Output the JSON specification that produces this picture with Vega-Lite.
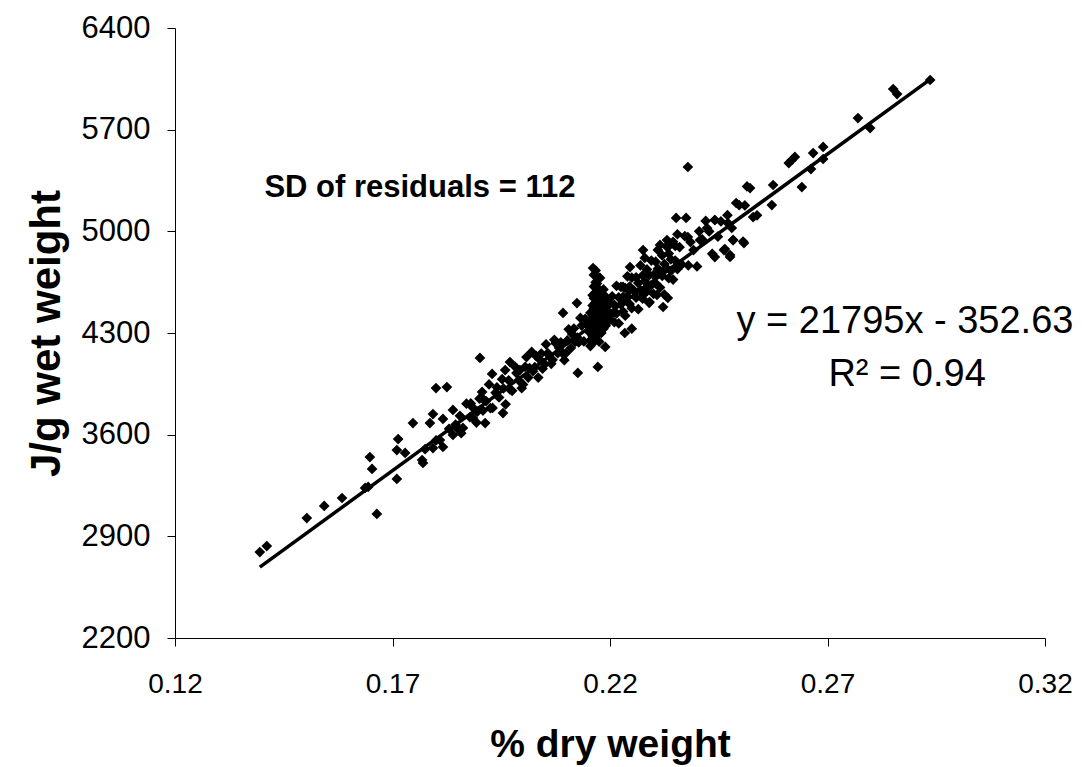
{
  "$schema": "https://vega.github.io/schema/vega-lite/v6.json",
  "width": 870,
  "height": 610,
  "autosize": "none",
  "padding": {"left": 175, "top": 28, "right": 37, "bottom": 129},
  "background": "white",
  "config": {
    "view": {"stroke": null},
    "font": "Liberation Sans",
    "axis": {"grid": false, "domainColor": "#000000", "tickColor": "#000000", "domainWidth": 1, "tickWidth": 1, "tickSize": 8, "labelFont": "Liberation Sans", "labelColor": "#000000", "titleFont": "Liberation Sans", "titleFontWeight": "bold", "titleColor": "#000000", "labelFlush": false, "labelOverlap": false, "labelBound": false}
  },
  "datasets": {
    "pts": [
      {"x":0.1395,"y":2792},{"x":0.1411,"y":2833},{"x":0.1503,"y":3026},{"x":0.1543,"y":3109},{"x":0.1584,"y":3164},
      {"x":0.1637,"y":3233},{"x":0.1644,"y":3240},{"x":0.1648,"y":3446},{"x":0.1653,"y":3364},{"x":0.1664,"y":3054},
      {"x":0.1710,"y":3295},{"x":0.1710,"y":3494},{"x":0.1713,"y":3570},{"x":0.1729,"y":3474},{"x":0.1747,"y":3680},
      {"x":0.1768,"y":3425},{"x":0.1770,"y":3405},{"x":0.1786,"y":3680},{"x":0.1793,"y":3742},{"x":0.1793,"y":3508},
      {"x":0.1800,"y":3921},{"x":0.1809,"y":3563},{"x":0.1816,"y":3708},{"x":0.1816,"y":3515},{"x":0.1825,"y":3928},
      {"x":0.1839,"y":3770},{"x":0.1839,"y":3598},{"x":0.1850,"y":3640},{"x":0.1885,"y":3715},{"x":0.1901,"y":4128},
      {"x":0.1906,"y":3894},{"x":0.1913,"y":3680},{"x":0.1929,"y":4018},{"x":0.1954,"y":3749},{"x":0.1959,"y":4045},
      {"x":0.1970,"y":4100},{"x":0.1993,"y":4045},{"x":0.1775,"y":3500},{"x":0.1800,"y":3560},{"x":0.1830,"y":3640},
      {"x":0.1845,"y":3670},{"x":0.1858,"y":3610},
      {"x":0.1855,"y":3730},{"x":0.1862,"y":3646},{"x":0.1870,"y":3813},{"x":0.1878,"y":3720},{"x":0.1885,"y":3786},
      {"x":0.1893,"y":3683},{"x":0.1900,"y":3848},{"x":0.1908,"y":3766},{"x":0.1915,"y":3831},{"x":0.1922,"y":3946},
      {"x":0.1930,"y":3784},{"x":0.1937,"y":3889},{"x":0.1945,"y":3856},{"x":0.1952,"y":3982},{"x":0.1960,"y":3809},
      {"x":0.1967,"y":3974},{"x":0.1975,"y":3902},{"x":0.1982,"y":4067},{"x":0.1990,"y":3975},{"x":0.1997,"y":3920},
      {"x":0.2005,"y":4067},{"x":0.2012,"y":3993},{"x":0.2020,"y":4170},{"x":0.2027,"y":4065},{"x":0.2035,"y":3993},
      {"x":0.2042,"y":4158},{"x":0.2050,"y":4085},{"x":0.2057,"y":4161},{"x":0.2065,"y":4088},{"x":0.2072,"y":4253},
      {"x":0.2080,"y":4161},{"x":0.2087,"y":4236},{"x":0.2095,"y":4113},{"x":0.2102,"y":4249},{"x":0.2110,"y":4196},
      {"x":0.2117,"y":4331},{"x":0.2125,"y":4269},{"x":0.2132,"y":4404},{"x":0.2140,"y":4242},{"x":0.2147,"y":4357},
      {"x":0.1880,"y":3815},{"x":0.1895,"y":3758},{"x":0.1910,"y":3840},{"x":0.1925,"y":3783},{"x":0.1940,"y":3926},
      {"x":0.1955,"y":3918},{"x":0.1970,"y":3911},{"x":0.1985,"y":4024},{"x":0.2000,"y":3946},{"x":0.2015,"y":4059},
      {"x":0.2030,"y":4142},{"x":0.2045,"y":4054},{"x":0.2060,"y":4147},{"x":0.2075,"y":4230},{"x":0.2090,"y":4163},
      {"x":0.2105,"y":4325},{"x":0.2120,"y":4238},{"x":0.2135,"y":4351},{"x":0.2150,"y":4313},
      {"x":0.2008,"y":4134},{"x":0.2023,"y":4037},{"x":0.2038,"y":4119},{"x":0.2053,"y":4222},{"x":0.2068,"y":4115},
      {"x":0.2083,"y":4197},{"x":0.2098,"y":4160},{"x":0.2113,"y":4293},{"x":0.2128,"y":4235},{"x":0.2143,"y":4398},
      {"x":0.2155,"y":4250},{"x":0.2155,"y":4310},{"x":0.2155,"y":4380},{"x":0.2155,"y":4440},{"x":0.2155,"y":4210},
      {"x":0.2160,"y":4280},{"x":0.2160,"y":4350},{"x":0.2160,"y":4420},{"x":0.2160,"y":4490},{"x":0.2160,"y":4560},{"x":0.2160,"y":4230},
      {"x":0.2163,"y":4300},{"x":0.2163,"y":4400},{"x":0.2163,"y":4470},{"x":0.2163,"y":4540},{"x":0.2163,"y":4620},{"x":0.2163,"y":4700},
      {"x":0.2167,"y":4260},{"x":0.2167,"y":4330},{"x":0.2167,"y":4390},{"x":0.2167,"y":4450},{"x":0.2167,"y":4510},{"x":0.2167,"y":4580},{"x":0.2167,"y":4650},{"x":0.2167,"y":4730},
      {"x":0.2170,"y":4290},{"x":0.2170,"y":4360},{"x":0.2170,"y":4430},{"x":0.2170,"y":4500},{"x":0.2170,"y":4570},{"x":0.2170,"y":4640},
      {"x":0.2175,"y":4240},{"x":0.2175,"y":4320},{"x":0.2175,"y":4400},{"x":0.2175,"y":4460},{"x":0.2175,"y":4530},{"x":0.2175,"y":4600},{"x":0.2175,"y":4680},
      {"x":0.2180,"y":4300},{"x":0.2180,"y":4370},{"x":0.2180,"y":4440},{"x":0.2180,"y":4510},{"x":0.2180,"y":4560},
      {"x":0.2185,"y":4330},{"x":0.2185,"y":4390},{"x":0.2185,"y":4460},{"x":0.2185,"y":4520},{"x":0.2185,"y":4600},
      {"x":0.2190,"y":4350},{"x":0.2190,"y":4420},{"x":0.2190,"y":4480},{"x":0.2190,"y":4550},
      {"x":0.2195,"y":4380},{"x":0.2195,"y":4450},{"x":0.2195,"y":4510},
      {"x":0.2124,"y":4506},{"x":0.2092,"y":4438},{"x":0.2161,"y":4747},{"x":0.2177,"y":4679},{"x":0.2172,"y":4066},
      {"x":0.2126,"y":4025},{"x":0.2189,"y":4204},
      {"x":0.2200,"y":4502},{"x":0.2200,"y":4392},{"x":0.2205,"y":4553},{"x":0.2205,"y":4433},{"x":0.2210,"y":4494},{"x":0.2210,"y":4374},
      {"x":0.2215,"y":4625},{"x":0.2215,"y":4435},{"x":0.2220,"y":4546},{"x":0.2220,"y":4366},{"x":0.2225,"y":4497},{"x":0.2225,"y":4617},
      {"x":0.2230,"y":4448},{"x":0.2230,"y":4548},{"x":0.2235,"y":4609},{"x":0.2235,"y":4419},{"x":0.2240,"y":4550},{"x":0.2240,"y":4690},
      {"x":0.2245,"y":4500},{"x":0.2245,"y":4620},{"x":0.2250,"y":4681},{"x":0.2250,"y":4471},{"x":0.2255,"y":4592},{"x":0.2246,"y":4754},
      {"x":0.2260,"y":4543},{"x":0.2260,"y":4683},{"x":0.2265,"y":4644},{"x":0.2265,"y":4464},{"x":0.2270,"y":4765},{"x":0.2270,"y":4595},
      {"x":0.2275,"y":4536},{"x":0.2275,"y":4696},{"x":0.2280,"y":4657},{"x":0.2280,"y":4817},{"x":0.2285,"y":4588},{"x":0.2285,"y":4738},
      {"x":0.2290,"y":4698},{"x":0.2290,"y":4508},{"x":0.2295,"y":4799},{"x":0.2295,"y":4629},{"x":0.2300,"y":4700},{"x":0.2300,"y":4570},
      {"x":0.2305,"y":4791},{"x":0.2305,"y":4641},{"x":0.2310,"y":4742},{"x":0.2310,"y":4872},{"x":0.2315,"y":4613},{"x":0.2315,"y":4723},
      {"x":0.2320,"y":4834},{"x":0.2320,"y":4694},{"x":0.2325,"y":4775},{"x":0.2325,"y":4565},{"x":0.2330,"y":4896},{"x":0.2330,"y":4746},
      {"x":0.2335,"y":4677},{"x":0.2335,"y":4847},{"x":0.2340,"y":4807},{"x":0.2340,"y":4727},{"x":0.2345,"y":4928},{"x":0.2345,"y":4668},
      {"x":0.2350,"y":4799},{"x":0.2350,"y":4899},{"x":0.2355,"y":4740},{"x":0.2355,"y":4980},
      {"x":0.2230,"y":4617},{"x":0.2246,"y":4596},{"x":0.2285,"y":4617},{"x":0.2276,"y":4562},{"x":0.2308,"y":4562},
      {"x":0.2333,"y":4541},{"x":0.2322,"y":4479},{"x":0.2291,"y":4513},{"x":0.2234,"y":4300},{"x":0.2250,"y":4330},
      {"x":0.2360,"y":4891},{"x":0.2365,"y":4772},{"x":0.2372,"y":4967},{"x":0.2380,"y":4765},{"x":0.2385,"y":4926},
      {"x":0.2392,"y":4871},{"x":0.2400,"y":4758},{"x":0.2405,"y":5000},{"x":0.2412,"y":4944},{"x":0.2420,"y":5072},
      {"x":0.2428,"y":4999},{"x":0.2435,"y":4845},{"x":0.2441,"y":5078},{"x":0.2448,"y":4963},{"x":0.2455,"y":5068},
      {"x":0.2464,"y":4878},{"x":0.2470,"y":5111},{"x":0.2476,"y":4824},{"x":0.2483,"y":4940},{"x":0.2490,"y":5195},
      {"x":0.2497,"y":5180},{"x":0.2506,"y":4930},{"x":0.2510,"y":5178},{"x":0.2515,"y":5309},{"x":0.2529,"y":5098},
      {"x":0.2538,"y":5110},
      {"x":0.2352,"y":5092},{"x":0.2375,"y":5092},{"x":0.2379,"y":5443},{"x":0.2522,"y":5298},{"x":0.2572,"y":5181},
      {"x":0.2575,"y":5319},{"x":0.2611,"y":5470},{"x":0.2618,"y":5491},{"x":0.2625,"y":5512},{"x":0.2641,"y":5305},
      {"x":0.2662,"y":5429},{"x":0.2667,"y":5539},{"x":0.2690,"y":5581},{"x":0.2690,"y":5498},{"x":0.2770,"y":5780},
      {"x":0.2798,"y":5711},{"x":0.2851,"y":5980},{"x":0.2860,"y":5945},{"x":0.2936,"y":6042},
      {"x":0.2462,"y":4871},{"x":0.2476,"y":4837},{"x":0.2483,"y":4940},{"x":0.2508,"y":4919},{"x":0.2441,"y":4823},
      {"x":0.2471,"y":5057},{"x":0.2480,"y":5023},{"x":0.2441,"y":5078},{"x":0.2423,"y":5023},{"x":0.2379,"y":4961},
      {"x":0.2407,"y":4940},{"x":0.2338,"y":4906},{"x":0.2331,"y":4940},{"x":0.2315,"y":4906},{"x":0.2276,"y":4871}
    ],
    "fit": [{"x":0.1395,"y":2687.8},{"x":0.2936,"y":6046.4}]
  },
  "layer": [
    {
      "data": {"name": "pts"},
      "mark": {"type": "point", "shape": "diamond", "filled": true, "color": "#000000", "size": 115, "opacity": 1},
      "encoding": {
        "x": {"field": "x", "type": "quantitative", "scale": {"domain": [0.12, 0.32], "nice": false, "zero": false},
              "axis": {"values": [0.12, 0.17, 0.22, 0.27, 0.32], "format": ".2f", "title": "% dry weight", "labelFontSize": 28, "titleFontSize": 39, "labelPadding": 24, "titlePadding": 27}},
        "y": {"field": "y", "type": "quantitative", "scale": {"domain": [2200, 6400], "nice": false, "zero": false},
              "axis": {"values": [2200, 2900, 3600, 4300, 5000, 5700, 6400], "format": "d", "title": "J/g wet weight", "labelFontSize": 31, "titleFontSize": 42, "labelPadding": 17, "titlePadding": 13}}
      }
    },
    {
      "data": {"name": "fit"},
      "mark": {"type": "line", "color": "#000000", "strokeWidth": 3.5},
      "encoding": {"x": {"field": "x", "type": "quantitative"}, "y": {"field": "y", "type": "quantitative"}}
    },
    {
      "data": {"values": [{"x": 0.1763, "y": 5298, "label": "SD of residuals = 112"}]},
      "mark": {"type": "text", "font": "Liberation Sans", "fontSize": 31, "fontWeight": "bold", "color": "#000000", "align": "center", "baseline": "middle"},
      "encoding": {"x": {"field": "x", "type": "quantitative"}, "y": {"field": "y", "type": "quantitative"}, "text": {"field": "label"}}
    },
    {
      "data": {"values": [{"x": 0.2878, "y": 4376, "label": "y = 21795x - 352.63"}, {"x": 0.2883, "y": 4011, "label": "R² = 0.94"}]},
      "mark": {"type": "text", "font": "Liberation Sans", "fontSize": 38, "color": "#000000", "align": "center", "baseline": "middle"},
      "encoding": {"x": {"field": "x", "type": "quantitative"}, "y": {"field": "y", "type": "quantitative"}, "text": {"field": "label"}}
    }
  ]
}
